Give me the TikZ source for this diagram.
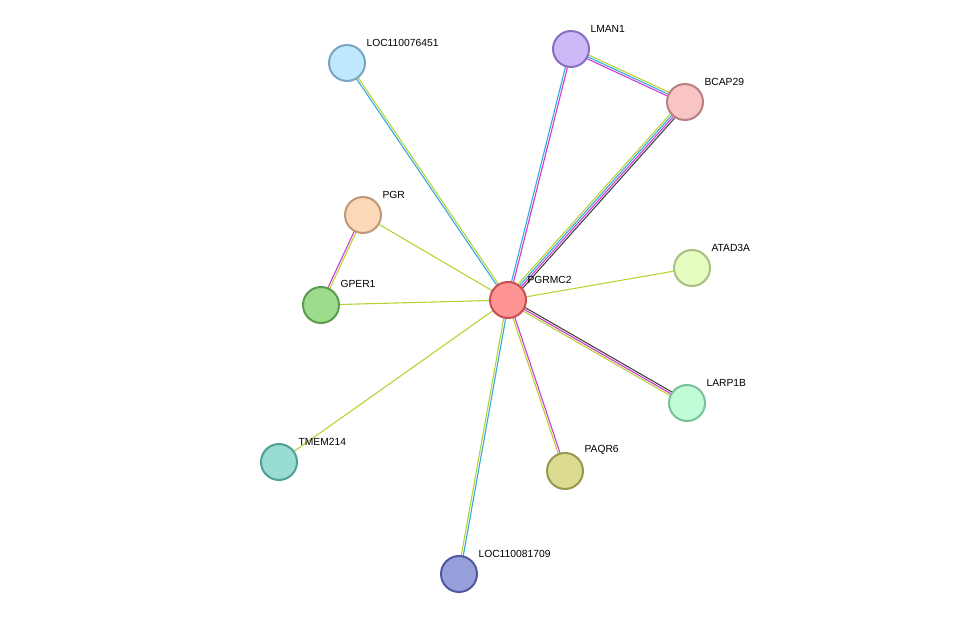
\documentclass[tikz,border=0pt]{standalone}
\usepackage{fontspec}
\setmainfont{Liberation Sans}
\usetikzlibrary{calc}
\definecolor{eyg}{HTML}{B5D334}
\definecolor{emg}{HTML}{D339D3}
\definecolor{ebl}{HTML}{33AADD}
\definecolor{ebk}{HTML}{444444}
\newcommand{\myedge}[3]{% a, b, list of offset/color
  \foreach \o/\c in {#3}{\draw[\c,line width=1.1pt] ($(#1)!\o pt!90:(#2)$) -- ($(#2)!\o pt!-90:(#1)$);}}
\newcommand{\prot}[4]{\definecolor{tmpd}{HTML}{#3}\definecolor{tmpf}{HTML}{#4}\node[prot,draw=tmpd,fill=tmpf] (#1) at (#2) {};}
\begin{document}
\begin{tikzpicture}[x=1pt,y=-1pt,
  prot/.style={circle,minimum size=36pt,line width=2pt,inner sep=0},
  lab/.style={font=\fontsize{10.3}{12}\selectfont,anchor=south west}]
\useasboundingbox (0,0) rectangle (975,620);
\coordinate (PGRMC2) at (508,300);
\coordinate (LMAN1) at (571,49);
\coordinate (BCAP29) at (685,102);
\coordinate (LOC1) at (347,63);
\coordinate (PGR) at (363,215);
\coordinate (GPER1) at (321,305);
\coordinate (ATAD3A) at (692,268);
\coordinate (LARP1B) at (687,403);
\coordinate (PAQR6) at (565,471);
\coordinate (TMEM214) at (279,462);
\coordinate (LOC2) at (459,574);
\myedge{PGRMC2}{LMAN1}{-1/emg,1/ebl}
\myedge{LMAN1}{BCAP29}{-2/emg,0/ebl,2/eyg}
\myedge{PGRMC2}{BCAP29}{-3/ebk,-1/emg,1/ebl,3/eyg}
\myedge{PGRMC2}{LOC1}{-1/eyg,1/ebl}
\myedge{PGRMC2}{PGR}{0/eyg}
\myedge{PGR}{GPER1}{-1/emg,1/eyg}
\myedge{PGRMC2}{GPER1}{0/eyg}
\myedge{PGRMC2}{ATAD3A}{0/eyg}
\myedge{PGRMC2}{LARP1B}{-2/eyg,0/emg,2/ebk}
\myedge{PGRMC2}{PAQR6}{-1/eyg,1/emg}
\myedge{PGRMC2}{TMEM214}{0/eyg}
\myedge{PGRMC2}{LOC2}{-1/eyg,1/ebl}
\prot{n1}{PGRMC2}{C85050}{FF9494}
\prot{n2}{LMAN1}{8A6FC0}{CDB8F8}
\prot{n3}{BCAP29}{B88080}{F8C4C4}
\prot{n4}{LOC1}{7AA4C4}{C0E8FC}
\prot{n5}{PGR}{C09878}{FCD8B8}
\prot{n6}{GPER1}{5C9C50}{9CDC8C}
\prot{n7}{ATAD3A}{A8C080}{E4FCC0}
\prot{n8}{LARP1B}{78C098}{C0FCD8}
\prot{n9}{PAQR6}{989850}{DCDC90}
\prot{n10}{TMEM214}{50A098}{98DCD4}
\prot{n11}{LOC2}{5058A0}{98A0DC}
\node[lab] at (524,287) {PGRMC2};
\node[lab] at (587,36) {LMAN1};
\node[lab] at (701,89) {BCAP29};
\node[lab] at (363,50) {LOC110076451};
\node[lab] at (379,202) {PGR};
\node[lab] at (337,291) {GPER1};
\node[lab] at (708,255) {ATAD3A};
\node[lab] at (703,390) {LARP1B};
\node[lab] at (581,458) {PAQR6};
\node[lab] at (295,449) {TMEM214};
\node[lab] at (475,561) {LOC110081709};
\end{tikzpicture}
\end{document}
